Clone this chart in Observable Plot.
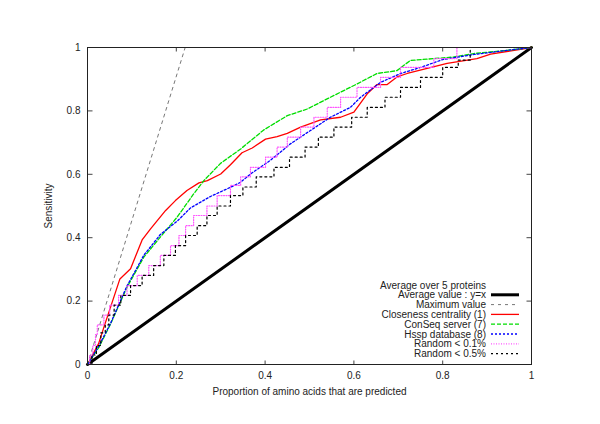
<!DOCTYPE html>
<html><head><meta charset="utf-8">
<script src="https://cdn.jsdelivr.net/npm/d3@7"></script>
<script src="https://cdn.jsdelivr.net/npm/@observablehq/plot@0.6"></script>
<style>body{margin:0;background:#fff}</style>
</head><body><div id="chart"></div>
<script>
const xTicks = [0, 0.2, 0.4, 0.6, 0.8, 1];
const yTicks = [0, 0.2, 0.4, 0.6, 0.8, 1];
const innerTicks = [0.2, 0.4, 0.6, 0.8];

const averageLine = [[0,0],[1,1]];
const maximumLine = [[0,0],[0.22,1]];
const closeness = [[0,0],[0.025,0.066],[0.037,0.118],[0.073,0.27],[0.097,0.302],[0.123,0.393],[0.142,0.428],[0.176,0.486],[0.198,0.517],[0.224,0.549],[0.251,0.573],[0.27,0.58],[0.3,0.601],[0.322,0.63],[0.348,0.668],[0.371,0.683],[0.401,0.711],[0.427,0.719],[0.45,0.729],[0.48,0.749],[0.525,0.772],[0.57,0.78],[0.6,0.796],[0.63,0.854],[0.652,0.883],[0.675,0.883],[0.697,0.907],[0.72,0.918],[0.765,0.934],[0.81,0.95],[0.877,0.965],[0.908,0.979],[1,1]];
const conseq = [[0,0],[0.026,0.055],[0.052,0.128],[0.089,0.244],[0.127,0.339],[0.164,0.402],[0.202,0.465],[0.239,0.538],[0.262,0.58],[0.3,0.635],[0.345,0.68],[0.397,0.74],[0.45,0.785],[0.495,0.806],[0.547,0.843],[0.607,0.885],[0.652,0.918],[0.697,0.927],[0.727,0.959],[0.78,0.965],[0.825,0.97],[0.87,0.981],[0.945,0.991],[1,1]];
const hssp = [[0,0],[0.026,0.06],[0.052,0.13],[0.089,0.248],[0.127,0.345],[0.164,0.41],[0.202,0.452],[0.232,0.494],[0.277,0.53],[0.322,0.559],[0.345,0.575],[0.367,0.601],[0.412,0.644],[0.457,0.696],[0.502,0.738],[0.547,0.78],[0.592,0.811],[0.615,0.843],[0.66,0.89],[0.705,0.918],[0.75,0.937],[0.8,0.962],[0.87,0.978],[0.945,0.991],[1,1]];
const random01 = [[0,0],[0.005,0.03],[0.012,0.06],[0.018,0.094],[0.022,0.125],[0.037,0.156],[0.05,0.187],[0.07,0.218],[0.089,0.249],[0.112,0.281],[0.138,0.312],[0.164,0.344],[0.187,0.375],[0.206,0.407],[0.221,0.438],[0.239,0.47],[0.269,0.5],[0.292,0.533],[0.322,0.565],[0.345,0.592],[0.367,0.622],[0.401,0.654],[0.427,0.686],[0.45,0.717],[0.48,0.749],[0.51,0.78],[0.54,0.811],[0.57,0.843],[0.607,0.874],[0.66,0.906],[0.705,0.937],[0.78,0.965],[0.832,1],[1,1]];
const random05 = [[0,0],[0.01,0.03],[0.02,0.06],[0.03,0.1],[0.04,0.125],[0.048,0.156],[0.06,0.187],[0.075,0.218],[0.097,0.249],[0.123,0.281],[0.149,0.312],[0.172,0.344],[0.198,0.375],[0.221,0.407],[0.247,0.438],[0.269,0.47],[0.292,0.5],[0.322,0.533],[0.35,0.56],[0.38,0.592],[0.42,0.622],[0.455,0.654],[0.49,0.686],[0.52,0.717],[0.555,0.749],[0.595,0.78],[0.63,0.811],[0.67,0.843],[0.705,0.874],[0.75,0.906],[0.8,0.937],[0.835,0.96],[0.862,1],[1,1]];

const legendTitle = "Average over 5 proteins";
const series = [
  {name: "Average value : y=x", data: averageLine, stroke: "#000", width: 3, dash: null, curve: "linear"},
  {name: "Maximum value", data: maximumLine, stroke: "#777", width: 1, dash: "3,4", curve: "linear"},
  {name: "Closeness centrality (1)", data: closeness, stroke: "#ff0000", width: 1.3, dash: null, curve: "linear"},
  {name: "ConSeq server (7)", data: conseq, stroke: "#00dd00", width: 1.3, dash: "4,2", curve: "linear"},
  {name: "Hssp database (8)", data: hssp, stroke: "#0000ff", width: 1.3, dash: "2,2", curve: "linear"},
  {name: "Random < 0.1%", data: random01, stroke: "#ff55ff", width: 1.2, dash: "1,1.5", curve: "step-after"},
  {name: "Random < 0.5%", data: random05, stroke: "#000", width: 1.2, dash: "2,3", curve: "step-after"}
];

const fmt = d => String(+d.toFixed(1));
const font = "'Liberation Sans', Arial, sans-serif";

const lineMarks = series.map(s => Plot.line(s.data, {x: d => d[0], y: d => d[1], stroke: s.stroke, strokeWidth: s.width, strokeDasharray: s.dash, curve: s.curve}));

const tickOnly = {tickSize: 4.5, stroke: "#444", fill: "none", label: null};

const chart = Plot.plot({
  width: 600, height: 424,
  marginLeft: 87, marginRight: 69, marginTop: 47, marginBottom: 60,
  style: {fontFamily: font, fontSize: "10px", background: "#fff", color: "#222"},
  x: {domain: [0, 1]},
  y: {domain: [0, 1]},
  marks: [
    Plot.axisX(xTicks, {anchor: "bottom", tickSize: 0, tickPadding: 7, tickFormat: fmt, label: "Proportion of amino acids that are predicted", labelAnchor: "center", labelOffset: 30, labelArrow: "none"}),
    Plot.axisY(yTicks, {anchor: "left", tickSize: 0, tickPadding: 7, tickFormat: fmt, label: "Sensitivity", labelAnchor: "center", labelOffset: 43, labelArrow: "none"}),
    Plot.axisX(innerTicks, {anchor: "top", frameAnchor: "bottom", ...tickOnly}),
    Plot.axisX(innerTicks, {anchor: "bottom", frameAnchor: "top", ...tickOnly}),
    Plot.axisY(innerTicks, {anchor: "right", frameAnchor: "left", ...tickOnly}),
    Plot.axisY(innerTicks, {anchor: "left", frameAnchor: "right", ...tickOnly}),
    ...lineMarks,
    Plot.frame({stroke: "#222", strokeWidth: 1})
  ]
});
document.getElementById("chart").appendChild(chart);

// legend (inside the frame, bottom right, gnuplot style)
const svg = d3.select(chart);
const lg = {textRight: 486, lineX1: 491, lineX2: 519, top: 285, step: 9.8};
const g = svg.append("g").attr("font-family", font).attr("font-size", 10).attr("fill", "#222");
g.append("text").attr("x", lg.textRight).attr("y", lg.top).attr("text-anchor", "end").attr("dy", "0.35em").text(legendTitle);
series.forEach((s, i) => {
  const y = lg.top + lg.step * (i + 1);
  g.append("text").attr("x", lg.textRight).attr("y", y).attr("text-anchor", "end").attr("dy", "0.35em").text(s.name);
  g.append("line").attr("x1", lg.lineX1).attr("x2", lg.lineX2).attr("y1", y).attr("y2", y)
    .attr("stroke", s.stroke).attr("stroke-width", s.width).attr("stroke-dasharray", s.dash);
});
</script></body></html>
